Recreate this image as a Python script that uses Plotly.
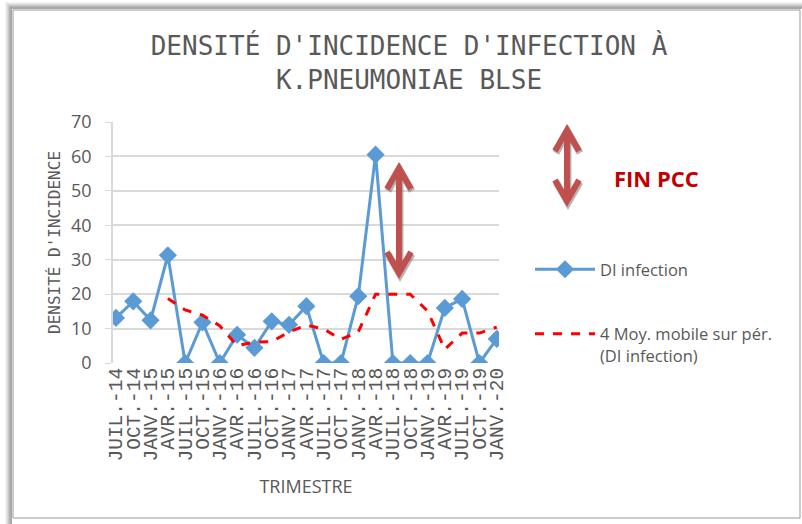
import plotly.graph_objects as go

categories = ["JUIL.-14", "OCT.-14", "JANV.-15", "AVR.-15", "JUIL.-15", "OCT.-15",
              "JANV.-16", "AVR.-16", "JUIL.-16", "OCT.-16", "JANV.-17", "AVR.-17",
              "JUIL.-17", "OCT.-17", "JANV.-18", "AVR.-18", "JUIL.-18", "OCT.-18",
              "JANV.-19", "AVR.-19", "JUIL.-19", "OCT.-19", "JANV.-20"]
di_infection = [13.1, 17.9, 12.4, 31.3, 0, 11.8, 0, 8.2, 4.4, 12.1, 11.1, 16.5,
                0, 0, 19.4, 60.5, 0, 0, 0, 16.0, 18.6, 0, 7.0]
moving_avg = [None, None, None, 18.7, 15.4, 13.9, 10.8, 5.0, 6.1, 6.2, 9.0, 11.0,
              9.9, 6.9, 9.0, 20.0, 20.0, 20.0, 15.1, 4.0, 8.7, 8.7, 10.4]
y_ticks = [0, 10, 20, 30, 40, 50, 60, 70]

W, H = 802, 524
L, R, T, B = 113, 499, 122, 363
GREY = "#595959"
FONT = "Open Sans"
CAPS = "DejaVu Sans Mono"
TICKS = "Liberation Mono"

def X(px):
    return (px - L) / (R - L)

def Y(py):
    return (B - py) / (B - T)

x_idx = list(range(len(categories)))

fig = go.Figure()
fig.add_trace(go.Scatter(
    x=x_idx, y=di_infection, mode="lines+markers", name="DI infection",
    line=dict(color="#5B9BD5", width=3),
    marker=dict(symbol="diamond", size=14, color="#5B9BD5"),
    legendgroup="a"))
fig.add_trace(go.Scatter(
    x=x_idx, y=moving_avg, mode="lines", name="4 Moy. mobile sur pér.<br>(DI infection)",
    line=dict(color="#FF0000", width=3, dash="dash"),
    legendgroup="b"))

shapes = []
# frame and shadow
for i, c in enumerate(["#f4f4f4", "#e8e8e8", "#d8d8d8", "#c8c8c8", "#b8b8b8", "#a8a8a8"]):
    off = 6 - i
    shapes.append(dict(type="rect", xref="paper", yref="paper",
                       x0=X(13 - off - 1), x1=X(801 + 8), y0=Y(519 + 8), y1=Y(10 - off - 1),
                       line=dict(color=c, width=2), fillcolor="rgba(0,0,0,0)", layer="below"))
shapes.append(dict(type="rect", xref="paper", yref="paper",
                   x0=X(13), x1=X(800), y0=Y(518), y1=Y(10),
                   line=dict(color="#9a9a9a", width=1), fillcolor="white", layer="below"))

def arrow(cx, top, bot, half=12, hh=21):
    out = []
    for dx, dy, col, w in [(1, 2, "rgba(90,90,90,0.45)", 7), (0, 0, "#C0504D", 6)]:
        x = cx + dx
        t = top + dy
        b = bot + dy
        paths = [
            f"M {X(x-half)},{Y(t+hh)} L {X(x)},{Y(t)} L {X(x+half)},{Y(t+hh)}",
            f"M {X(x-half)},{Y(b-hh)} L {X(x)},{Y(b)} L {X(x+half)},{Y(b-hh)}",
            f"M {X(x)},{Y(t+3)} L {X(x)},{Y(b-3)}",
        ]
        for p in paths:
            out.append(dict(type="path", xref="paper", yref="paper", path=p,
                            line=dict(color=col, width=w)))
    return out

shapes += arrow(399, 168, 273)
shapes += arrow(567, 130, 201)

fig.update_layout(
    width=W, height=H,
    margin=dict(l=L, r=W - R, t=T, b=H - B),
    paper_bgcolor="white", plot_bgcolor="white",
    font=dict(family=FONT, color=GREY),
    title=dict(text="DENSITÉ D'INCIDENCE D'INFECTION À<br>K.PNEUMONIAE BLSE",
               x=409 / W, xanchor="center", y=1 - 55 / H, yanchor="top",
               font=dict(family=CAPS, size=26, color=GREY)),
    xaxis=dict(range=[-0.17, 22.13], tickmode="array", tickvals=x_idx, ticktext=categories,
               tickangle=-90, tickfont=dict(family=TICKS, size=19.5, color=GREY), showgrid=False,
               showline=False, zeroline=False, ticks="",
               title=dict(text="TRIMESTRE", font=dict(size=18, color=GREY), standoff=19)),
    yaxis=dict(range=[0, 70], tickvals=y_ticks, tickfont=dict(size=18, color=GREY),
               showgrid=True, gridcolor="#D9D9D9", gridwidth=1.5, zeroline=False,
               showline=True, linecolor="#D9D9D9", linewidth=1.5,
               ticks="outside", ticklen=6, tickcolor="#D9D9D9", ticklabelstandoff=10,
               title=dict(text="DENSITÉ D'INCIDENCE", font=dict(family=CAPS, size=16, color=GREY), standoff=6)),
    legend=dict(x=X(530), y=Y(252), xanchor="left", yanchor="top",
                font=dict(size=16.5, color=GREY), traceorder="grouped", itemwidth=60,
                tracegroupgap=40, valign="top", bgcolor="rgba(0,0,0,0)"),
    shapes=shapes,
    annotations=[dict(text="<b>FIN PCC</b>", xref="paper", yref="paper",
                      x=X(656), y=Y(178), xanchor="center", yanchor="middle", showarrow=False,
                      font=dict(family=FONT, size=22, color="#C00000"))],
)

fig.write_html("out.html", config={"displayModeBar": False},
               post_script="document.body.style.margin='0';document.body.style.padding='0';")
